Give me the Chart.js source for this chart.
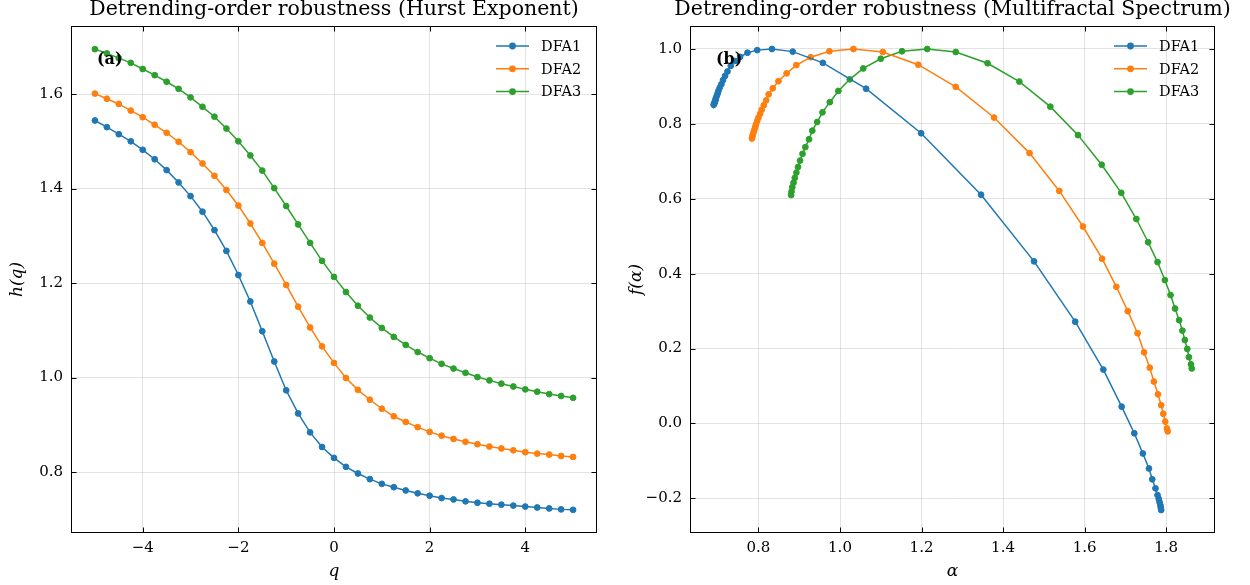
<!DOCTYPE html>
<html>
<head>
<meta charset="utf-8">
<script src="https://cdn.jsdelivr.net/npm/chart.js@4.4.0/dist/chart.umd.min.js"></script>
<style>
  body { margin: 0; background: #fff; }
  #wrap { position: relative; width: 1250px; height: 585px; }
  canvas { position: absolute; top: 0; }
</style>
</head>
<body>
<div id="wrap">
  <canvas id="chartA" width="625" height="585" style="left:0"></canvas>
  <canvas id="chartB" width="625" height="585" style="left:625px"></canvas>
</div>
<script>
// panel (a): h(q) for each detrending order
const qValues = [-5, -4.75, -4.5, -4.25, -4, -3.75, -3.5, -3.25, -3, -2.75, -2.5, -2.25, -2, -1.75, -1.5, -1.25, -1, -0.75, -0.5, -0.25,
  0, 0.25, 0.5, 0.75, 1, 1.25, 1.5, 1.75, 2, 2.25, 2.5, 2.75, 3, 3.25, 3.5, 3.75, 4, 4.25, 4.5, 4.75, 5]
const hDFA1 = [1.544, 1.530, 1.515, 1.500, 1.482, 1.462, 1.439, 1.413, 1.384, 1.351, 1.312, 1.268, 1.217, 1.161, 1.098, 1.034, 0.973, 0.924, 0.884, 0.853,
  0.830, 0.811, 0.797, 0.785, 0.775, 0.768, 0.761, 0.755, 0.750, 0.745, 0.742, 0.738, 0.735, 0.733, 0.731, 0.729, 0.727, 0.725, 0.723, 0.721, 0.720]
const hDFA2 = [1.601, 1.590, 1.579, 1.565, 1.551, 1.535, 1.518, 1.499, 1.477, 1.453, 1.427, 1.397, 1.364, 1.326, 1.285, 1.241, 1.196, 1.150, 1.106, 1.066,
  1.031, 0.999, 0.974, 0.953, 0.934, 0.918, 0.906, 0.895, 0.885, 0.877, 0.870, 0.864, 0.859, 0.854, 0.850, 0.846, 0.842, 0.839, 0.837, 0.834, 0.832]
const hDFA3 = [1.695, 1.686, 1.676, 1.666, 1.653, 1.640, 1.626, 1.611, 1.593, 1.573, 1.552, 1.527, 1.500, 1.470, 1.438, 1.401, 1.363, 1.324, 1.285, 1.247,
  1.213, 1.181, 1.152, 1.127, 1.105, 1.086, 1.069, 1.054, 1.041, 1.029, 1.019, 1.010, 1.001, 0.994, 0.987, 0.981, 0.975, 0.970, 0.965, 0.961, 0.957]

// panel (b): singularity spectrum, points listed from q = -5 to q = 5
const alphaDFA1 = [1.788, 1.787, 1.786, 1.784, 1.782, 1.779, 1.774, 1.766, 1.758, 1.743, 1.722, 1.691, 1.646, 1.577, 1.476, 1.346, 1.199, 1.064, 0.958, 0.884,
  0.833, 0.797, 0.773, 0.755, 0.742, 0.732, 0.724, 0.718, 0.713, 0.709, 0.705, 0.702, 0.700, 0.698, 0.696, 0.695, 0.694, 0.693, 0.692, 0.691, 0.690]
const fDFA1 = [-0.231, -0.225, -0.218, -0.210, -0.201, -0.191, -0.173, -0.149, -0.120, -0.080, -0.026, 0.045, 0.144, 0.272, 0.433, 0.611, 0.775, 0.894, 0.963, 0.993,
  1.000, 0.997, 0.990, 0.979, 0.968, 0.955, 0.940, 0.928, 0.917, 0.906, 0.897, 0.889, 0.882, 0.876, 0.870, 0.866, 0.862, 0.859, 0.856, 0.853, 0.851]
const alphaDFA2 = [1.804, 1.802, 1.798, 1.793, 1.788, 1.780, 1.770, 1.760, 1.746, 1.730, 1.706, 1.678, 1.643, 1.596, 1.538, 1.465, 1.378, 1.284, 1.192, 1.105,
  1.033, 0.974, 0.928, 0.893, 0.869, 0.849, 0.835, 0.825, 0.819, 0.813, 0.808, 0.804, 0.800, 0.797, 0.794, 0.792, 0.790, 0.788, 0.786, 0.785, 0.784]
const fDFA2 = [-0.021, -0.013, 0.005, 0.026, 0.049, 0.078, 0.112, 0.149, 0.190, 0.241, 0.300, 0.365, 0.440, 0.526, 0.621, 0.722, 0.817, 0.899, 0.958, 0.992,
  1.000, 0.994, 0.978, 0.957, 0.935, 0.914, 0.895, 0.879, 0.863, 0.850, 0.838, 0.827, 0.817, 0.808, 0.799, 0.792, 0.785, 0.778, 0.771, 0.766, 0.761]
const alphaDFA3 = [1.863, 1.861, 1.856, 1.852, 1.846, 1.840, 1.832, 1.822, 1.811, 1.797, 1.779, 1.756, 1.727, 1.690, 1.642, 1.584, 1.516, 1.440, 1.362, 1.284,
  1.214, 1.152, 1.100, 1.057, 1.024, 0.996, 0.975, 0.957, 0.944, 0.932, 0.924, 0.915, 0.908, 0.902, 0.897, 0.893, 0.889, 0.886, 0.883, 0.881, 0.880]
const fDFA3 = [0.147, 0.158, 0.177, 0.199, 0.223, 0.248, 0.276, 0.307, 0.343, 0.383, 0.431, 0.484, 0.546, 0.616, 0.691, 0.770, 0.846, 0.913, 0.962, 0.992,
  1.000, 0.994, 0.974, 0.948, 0.919, 0.888, 0.858, 0.831, 0.805, 0.782, 0.759, 0.738, 0.720, 0.702, 0.685, 0.670, 0.656, 0.643, 0.631, 0.619, 0.610]

const seriesNames = ['DFA1', 'DFA2', 'DFA3']
const seriesColors = ['#1f77b4', '#ff7f0e', '#2ca02c']

const hTicksX = [-4, -2, 0, 2, 4]
const hTicksY = [0.8, 1.0, 1.2, 1.4, 1.6]
const fTicksX = [0.8, 1.0, 1.2, 1.4, 1.6, 1.8]
const fTicksY = [-0.2, 0.0, 0.2, 0.4, 0.6, 0.8, 1.0]

const SERIF = "'DejaVu Serif', serif"

function fmt(v, digits) {
    const s = Math.abs(v).toFixed(digits)
    return v < -1e-9 ? '\u2212' + s : s
}

function toPoints(xs, ys) {
    return xs.map((x, i) => ({x: x, y: ys[i]}))
}

function makeDatasets(xLists, yLists) {
    return seriesNames.map((name, i) => ({
        label: name,
        data: toPoints(xLists[i], yLists[i]),
        showLine: true,
        borderColor: seriesColors[i],
        backgroundColor: seriesColors[i],
        borderWidth: 1.5,
        pointRadius: 2.9,
        pointBorderWidth: 1,
        pointBorderColor: seriesColors[i],
        pointBackgroundColor: seriesColors[i],
        tension: 0
    }))
}

function makeScale(min, max, ticks, digits, size, isX) {
    return {
        type: 'linear',
        min: min,
        max: max,
        afterBuildTicks: s => { s.ticks = ticks.map(v => ({value: v})) },
        afterFit: s => { if (isX) { s.height = size } else { s.width = size } },
        grid: {color: 'rgba(176,176,176,0.35)', lineWidth: 1, drawTicks: false},
        border: {display: false},
        ticks: {
            font: {family: SERIF, size: 15},
            color: '#000',
            padding: isX ? 6 : 8,
            maxRotation: 0,
            autoSkip: false,
            callback: v => fmt(v, digits)
        }
    }
}

// frame, inward ticks, titles, legend and panel tag
const decorPlugin = {
    id: 'decor',
    afterDatasetsDraw(chart, args, o) {
        const ctx = chart.ctx
        const a = chart.chartArea
        const xs = chart.scales.x
        const ys = chart.scales.y
        const L = Math.round(a.left) + 0.5, R = Math.round(a.right) - 0.5
        const T = Math.round(a.top) + 0.5, B = Math.round(a.bottom) - 0.5
        ctx.save()
        ctx.strokeStyle = '#000'
        ctx.lineWidth = 1
        ctx.strokeRect(L, T, R - L, B - T)
        ctx.beginPath()
        xs.ticks.forEach(t => {
            const px = Math.round(xs.getPixelForValue(t.value)) + 0.5
            ctx.moveTo(px, B); ctx.lineTo(px, B - 5)
            ctx.moveTo(px, T); ctx.lineTo(px, T + 5)
        })
        ys.ticks.forEach(t => {
            const py = Math.round(ys.getPixelForValue(t.value)) + 0.5
            ctx.moveTo(L, py); ctx.lineTo(L + 5, py)
            ctx.moveTo(R, py); ctx.lineTo(R - 5, py)
        })
        ctx.stroke()

        const cx = (a.left + a.right) / 2
        ctx.fillStyle = '#000'
        ctx.textAlign = 'center'
        ctx.textBaseline = 'middle'
        ctx.font = '20.5px ' + SERIF
        ctx.fillText(o.title, cx, 10)

        ctx.font = 'italic 17px ' + SERIF
        ctx.fillText(o.xTitle, cx, 572)
        ctx.save()
        ctx.translate(o.yTitleX, (a.top + a.bottom) / 2)
        ctx.rotate(-Math.PI / 2)
        ctx.fillText(o.yTitle, 0, 0)
        ctx.restore()

        // legend
        ctx.textAlign = 'left'
        ctx.font = '14.5px ' + SERIF
        seriesNames.forEach((name, i) => {
            const y = a.top + 20 + i * 22.8
            const x0 = a.right - 101, x1 = a.right - 68
            ctx.strokeStyle = seriesColors[i]
            ctx.lineWidth = 1.5
            ctx.beginPath(); ctx.moveTo(x0, y); ctx.lineTo(x1, y); ctx.stroke()
            ctx.fillStyle = seriesColors[i]
            ctx.beginPath(); ctx.arc((x0 + x1) / 2, y, 3.4, 0, Math.PI * 2); ctx.fill()
            ctx.fillStyle = '#000'
            ctx.fillText(name, a.right - 56, y + 1)
        })

        ctx.font = 'bold 16px ' + SERIF
        ctx.fillText(o.tag, a.left + 26, 60)
        ctx.restore()
    }
}

function drawPanel(id, datasets, xScale, yScale, padRight, deco) {
    return new Chart(document.getElementById(id), {
        type: 'scatter',
        data: {datasets: datasets},
        options: {
            responsive: false,
            animation: false,
            layout: {padding: {left: 0, right: padRight, top: 26, bottom: 0}},
            scales: {x: xScale, y: yScale},
            plugins: {legend: {display: false}, tooltip: {enabled: false}, decor: deco}
        },
        plugins: [decorPlugin]
    })
}

window.onload = () => {
    drawPanel('chartA',
        makeDatasets([qValues, qValues, qValues], [hDFA1, hDFA2, hDFA3]),
        makeScale(-5.5, 5.5, hTicksX, 0, 52, true),
        makeScale(0.671, 1.744, hTicksY, 1, 71, false),
        28,
        {title: 'Detrending-order robustness (Hurst Exponent)', xTitle: 'q', yTitle: 'h(q)', yTitleX: 18, tag: '(a)'})

    drawPanel('chartB',
        makeDatasets([alphaDFA1, alphaDFA2, alphaDFA3], [fDFA1, fDFA2, fDFA3]),
        makeScale(0.632, 1.920, fTicksX, 1, 52, true),
        makeScale(-0.2924, 1.0614, fTicksY, 1, 65, false),
        35,
        {title: 'Detrending-order robustness (Multifractal Spectrum)', xTitle: '\u03b1', yTitle: 'f(\u03b1)', yTitleX: 12, tag: '(b)'})
}
</script>
</body>
</html>
